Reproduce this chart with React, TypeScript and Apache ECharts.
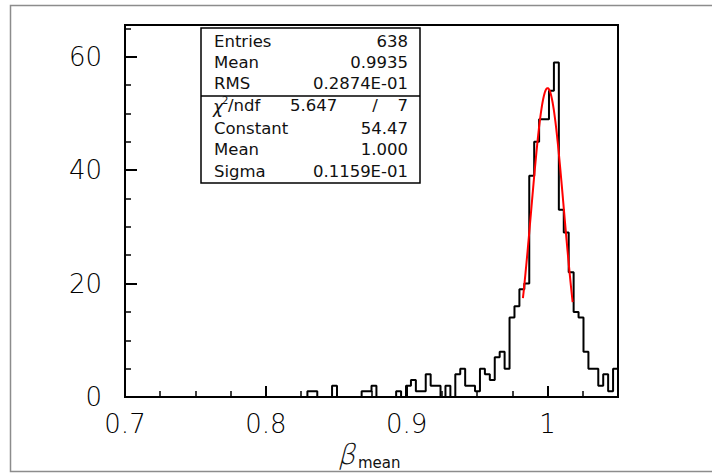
import React, { useEffect, useRef } from "react";
import * as echarts from "echarts";

// ---- data ----
const X_MIN = 0.7;
const X_MAX = 1.05;
const X_TICK_STEP = 0.1;
const X_MINOR_STEP = 0.025;
const Y_MIN = 0;
const Y_MAX = 65.6;
const Y_TICK_STEP = 20;
const Y_MINOR_STEP = 5;

// 100 bins from 0.7 to 1.05
const BIN_COUNTS = [
  0, 0, 0, 0, 0, 0, 0, 0, 0, 0,
  0, 0, 0, 0, 0, 0, 0, 0, 0, 0,
  0, 0, 0, 0, 0, 0, 0, 0, 0, 0,
  0, 0, 0, 0, 0, 0, 0, 1, 1, 0,
  0, 0, 2, 0, 0, 0, 0, 0, 1, 1,
  2, 0, 0, 0, 0, 1, 0, 2, 3, 1,
  1, 4, 2, 2, 0, 2, 0, 4, 5, 2,
  2, 1, 5, 4, 3, 7, 8, 5, 14, 16,
  19, 20, 39, 45, 49, 49, 54, 59, 33, 29,
  22, 15, 14, 8, 5, 5, 2, 4, 1, 5,
];

// Gaussian fit parameters (as printed in the stats box)
const FIT_CONSTANT = 54.47;
const FIT_MEAN = 1.0;
const FIT_SIGMA = 0.01159;
const FIT_RANGE = [0.9825, 1.0178];

const STATS_LABELS = ["Entries", "Mean", "RMS"];
const STATS_VALUES = ["638", "0.9935", "0.2874E-01"];
const FIT_LABELS = ["Constant", "Mean", "Sigma"];
const FIT_VALUES = ["54.47", "1.000", "0.1159E-01"];
const CHI2_VALUE = "5.647";
const NDF_VALUE = "7";

const FONT = "DejaVu Sans";

export default function App() {
  const ref = useRef<HTMLDivElement>(null);

  useEffect(() => {
    if (!ref.current) return;
    const chart = echarts.init(ref.current, undefined, { renderer: "svg" });

    const binWidth = (X_MAX - X_MIN) / BIN_COUNTS.length;
    const histPoints: number[][] = [[X_MIN, 0]];
    BIN_COUNTS.forEach((c, i) => {
      const lo = X_MIN + i * binWidth;
      histPoints.push([lo, c], [lo + binWidth, c]);
    });
    histPoints.push([X_MAX, 0]);

    const fitPoints: number[][] = [];
    const nFit = 150;
    for (let k = 0; k <= nFit; k++) {
      const x = FIT_RANGE[0] + (k * (FIT_RANGE[1] - FIT_RANGE[0])) / nFit;
      const z = (x - FIT_MEAN) / FIT_SIGMA;
      fitPoints.push([x, FIT_CONSTANT * Math.exp(-0.5 * z * z)]);
    }

    const txt = (
      text: string,
      x: number,
      y: number,
      size: number,
      align: string = "left",
      extra: any = {},
      el: any = {}
    ) => ({
      type: "text",
      x,
      y,
      z: 100,
      ...el,
      style: {
        text,
        fontSize: size,
        fontFamily: FONT,
        fill: "#111",
        align,
        textAlign: align,
        verticalAlign: "middle",
        textVerticalAlign: "middle",
        ...extra,
      },
    });

    const boxLeft = 201;
    const boxRight = 420;
    const boxTop = 28;
    const boxBottom = 183;
    const divider = 96;
    const labelX = 214;
    const valueX = 408;
    const rowsTop = [41, 62, 83];
    const rowsFit = [128, 149.5, 171];
    const SZ = 16.5;

    const graphics: any[] = [
      {
        type: "rect",
        z: 0,
        shape: { x: 10.5, y: 5.5, width: 720, height: 466 },
        style: { fill: "none", stroke: "#8c8c8c", lineWidth: 1.5 },
      },
      {
        type: "rect",
        z: 90,
        shape: { x: boxLeft, y: boxTop, width: boxRight - boxLeft, height: boxBottom - boxTop },
        style: { fill: "#fff", stroke: "#000", lineWidth: 1.5 },
      },
      {
        type: "line",
        z: 91,
        shape: { x1: boxLeft, y1: divider, x2: boxRight, y2: divider },
        style: { stroke: "#000", lineWidth: 1.5 },
      },
    ];
    STATS_LABELS.forEach((l, i) => {
      graphics.push(txt(l, labelX, rowsTop[i], SZ));
      graphics.push(txt(STATS_VALUES[i], valueX, rowsTop[i], SZ, "right"));
    });
    FIT_LABELS.forEach((l, i) => {
      graphics.push(txt(l, labelX, rowsFit[i], SZ));
      graphics.push(txt(FIT_VALUES[i], valueX, rowsFit[i], SZ, "right"));
    });
    // chi2/ndf row
    graphics.push(txt("χ", 213, 107, 17, "left", { fontStyle: "italic" }));
    graphics.push(txt("2", 222, 100, 10));
    graphics.push(txt("/ndf", 228, 105.5, SZ));
    graphics.push(txt(CHI2_VALUE, 290, 105.5, SZ));
    graphics.push(txt("/", 375, 105.5, SZ, "center"));
    graphics.push(txt(NDF_VALUE, valueX, 105.5, SZ, "right"));
    // x axis title beta_mean
    graphics.push(
      txt("β", 340, 455, 28, "left", { fontWeight: 200 }, { skewX: -0.25 })
    );
    graphics.push(txt("mean", 358, 463, 15));

    const option: any = {
      animation: false,
      backgroundColor: "#fff",
      grid: {
        left: 125,
        top: 25,
        right: 94,
        bottom: 79,
        show: true,
        borderColor: "#000",
        borderWidth: 2,
        backgroundColor: "transparent",
      },
      xAxis: [
        {
          type: "value",
          min: X_MIN,
          max: X_MAX,
          interval: X_TICK_STEP,
          axisLine: { show: true, onZero: false, lineStyle: { color: "#000", width: 2 } },
          axisTick: { show: true, inside: true, length: 11, lineStyle: { color: "#000", width: 2 } },
          axisLabel: {
            show: true,
            margin: 14,
            fontSize: 26,
            fontFamily: FONT,
            fontWeight: 200,
            color: "#000",
            showMaxLabel: false,
            formatter: (v: number) => String(+v.toFixed(2)),
          },
          splitLine: { show: false },
        },
        {
          type: "value",
          position: "bottom",
          min: X_MIN,
          max: X_MAX,
          interval: X_MINOR_STEP,
          axisLine: { show: false },
          axisTick: { show: true, inside: true, length: 6, lineStyle: { color: "#000", width: 1.5 } },
          axisLabel: { show: false },
          splitLine: { show: false },
        },
      ],
      yAxis: [
        {
          type: "value",
          min: Y_MIN,
          max: Y_MAX,
          interval: Y_TICK_STEP,
          axisLine: { show: true, onZero: false, lineStyle: { color: "#000", width: 2 } },
          axisTick: { show: true, inside: true, length: 12, lineStyle: { color: "#000", width: 2 } },
          axisLabel: {
            show: true,
            margin: 23,
            fontSize: 26,
            fontFamily: FONT,
            fontWeight: 200,
            color: "#000",
            showMaxLabel: false,
          },
          splitLine: { show: false },
        },
        {
          type: "value",
          position: "left",
          min: Y_MIN,
          max: Y_MAX,
          interval: Y_MINOR_STEP,
          axisLine: { show: false },
          axisTick: { show: true, inside: true, length: 6, lineStyle: { color: "#000", width: 1.5 } },
          axisLabel: { show: false },
          splitLine: { show: false },
        },
      ],
      series: [
        {
          type: "line",
          data: histPoints,
          xAxisIndex: 0,
          yAxisIndex: 0,
          symbol: "none",
          lineStyle: { color: "#000", width: 2 },
          z: 5,
        },
        {
          type: "line",
          data: fitPoints,
          xAxisIndex: 0,
          yAxisIndex: 0,
          symbol: "none",
          smooth: false,
          lineStyle: { color: "#ff0000", width: 2 },
          z: 6,
        },
      ],
      graphic: graphics,
    };

    chart.setOption(option);
    return () => chart.dispose();
  }, []);

  return (
    <div
      ref={ref}
      style={{ position: "fixed", left: 0, top: 0, width: 712, height: 476, background: "#fff" }}
    />
  );
}
